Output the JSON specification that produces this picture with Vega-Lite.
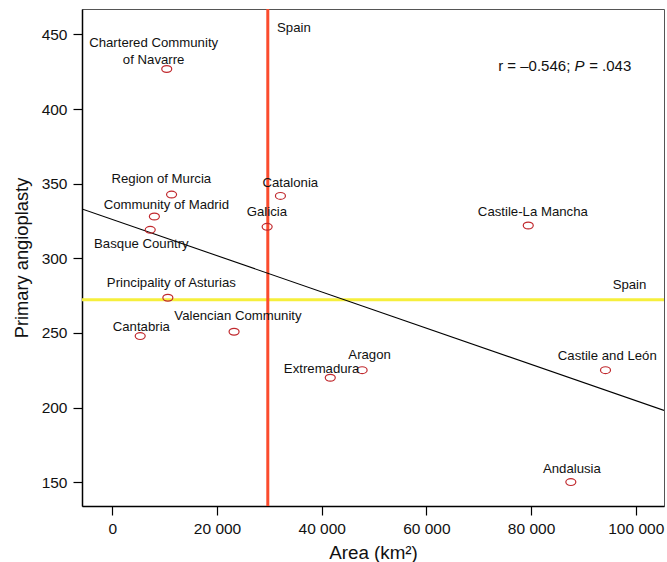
{
  "$schema": "https://vega.github.io/schema/vega-lite/v6.json",
  "width": 582,
  "height": 497,
  "autosize": {"type": "none"},
  "padding": {"left": 82, "top": 9, "right": 3, "bottom": 56},
  "config": {
    "font": "Liberation Sans",
    "view": {"stroke": "#555555", "strokeWidth": 1},
    "axis": {"grid": false, "domainColor": "#000000", "domainWidth": 1.5, "tickColor": "#000000", "tickWidth": 1.2, "tickSize": 9, "labelFontSize": 15.5, "labelColor": "#111111", "titleFontSize": 18.3, "titleFontWeight": "normal", "titleColor": "#111111", "labelPadding": 6}
  },
  "datasets": {
    "points": [
      {"region": "Chartered Community of Navarre", "area": 10391, "pa": 426.8},
      {"region": "Region of Murcia", "area": 11313, "pa": 342.7},
      {"region": "Community of Madrid", "area": 8028, "pa": 328},
      {"region": "Basque Country", "area": 7234, "pa": 319.1},
      {"region": "Galicia", "area": 29574, "pa": 321.1},
      {"region": "Catalonia", "area": 32113, "pa": 341.8},
      {"region": "Principality of Asturias", "area": 10604, "pa": 273.6},
      {"region": "Cantabria", "area": 5321, "pa": 247.9},
      {"region": "Valencian Community", "area": 23255, "pa": 250.8},
      {"region": "Extremadura", "area": 41634, "pa": 220},
      {"region": "Aragon", "area": 47720, "pa": 225.1},
      {"region": "Castile-La Mancha", "area": 79463, "pa": 322},
      {"region": "Castile and León", "area": 94223, "pa": 225.1},
      {"region": "Andalusia", "area": 87599, "pa": 150.1}
    ],
    "labels": [
      {"label": ["Chartered Community", "of Navarre"], "lx": 7890, "ly": 444.2},
      {"label": "Region of Murcia", "lx": 9360, "ly": 353.2},
      {"label": "Community of Madrid", "lx": 10315, "ly": 336},
      {"label": "Basque Country", "lx": 5540, "ly": 309.7},
      {"label": "Principality of Asturias", "lx": 11270, "ly": 283.6},
      {"label": "Catalonia", "lx": 34000, "ly": 350.5},
      {"label": "Galicia", "lx": 29530, "ly": 331.3},
      {"label": "Spain", "lx": 34690, "ly": 454.3},
      {"label": "Castile-La Mancha", "lx": 80340, "ly": 331.1},
      {"label": "Spain", "lx": 98810, "ly": 282},
      {"label": "Cantabria", "lx": 5540, "ly": 253.9},
      {"label": "Valencian Community", "lx": 24000, "ly": 261.7},
      {"label": "Extremadura", "lx": 39980, "ly": 225.6},
      {"label": "Aragon", "lx": 49150, "ly": 235.1},
      {"label": "Castile and León", "lx": 94560, "ly": 234.5},
      {"label": "Andalusia", "lx": 87800, "ly": 158.6}
    ],
    "fit": [
      {"area": -5800, "pa": 333.1},
      {"area": 105400, "pa": 198.1}
    ],
    "spainArea": [{"area": 29700}],
    "spainPA": [{"pa": 272.2}],
    "stat1": [{"t": "r = \u20130.546;", "lx": 87500, "ly": 428.6}],
    "stat2": [{"t": "P", "lx": 89250, "ly": 428.6}],
    "stat3": [{"t": "= .043", "lx": 91100, "ly": 428.6}]
  },
  "layer": [
    {
      "data": {"name": "spainPA"},
      "mark": {"type": "rule", "color": "#f6ef3c", "strokeWidth": 3},
      "encoding": {
        "y": {"field": "pa", "type": "quantitative", "scale": {"domain": [134.1, 467], "nice": false, "zero": false}, "axis": {"values": [150, 200, 250, 300, 350, 400, 450], "title": "Primary angioplasty", "titlePadding": 10}}
      }
    },
    {
      "data": {"name": "spainArea"},
      "mark": {"type": "rule", "color": "#fb4b2d", "strokeWidth": 3},
      "encoding": {
        "x": {"field": "area", "type": "quantitative", "scale": {"domain": [-5800, 105400], "nice": false, "zero": false}, "axis": {"values": [0, 20000, 40000, 60000, 80000, 100000], "labelExpr": "datum.value == 0 ? '0' : format(floor(datum.value/1000), 'd') + ' 000'", "title": "Area (km\u00b2)", "titleFontSize": 18.8, "titlePadding": 7}}
      }
    },
    {
      "data": {"name": "fit"},
      "mark": {"type": "line", "color": "#000000", "strokeWidth": 1.1, "clip": true},
      "encoding": {
        "x": {"field": "area", "type": "quantitative"},
        "y": {"field": "pa", "type": "quantitative"}
      }
    },
    {
      "data": {"name": "points"},
      "mark": {"type": "point", "shape": "M-1,0A1,0.68 0 1,1 1,0A1,0.68 0 1,1 -1,0Z", "filled": false, "stroke": "#c0282d", "strokeWidth": 1.2, "size": 100, "opacity": 1},
      "encoding": {
        "x": {"field": "area", "type": "quantitative"},
        "y": {"field": "pa", "type": "quantitative"}
      }
    },
    {
      "data": {"name": "labels"},
      "mark": {"type": "text", "fontSize": 13.2, "color": "#111111", "align": "center", "baseline": "middle", "lineHeight": 16.5},
      "encoding": {
        "x": {"field": "lx", "type": "quantitative"},
        "y": {"field": "ly", "type": "quantitative"},
        "text": {"field": "label"}
      }
    },
    {
      "data": {"name": "stat1"},
      "mark": {"type": "text", "fontSize": 15, "color": "#111111", "align": "right", "baseline": "middle"},
      "encoding": {
        "x": {"field": "lx", "type": "quantitative"},
        "y": {"field": "ly", "type": "quantitative"},
        "text": {"field": "t"}
      }
    },
    {
      "data": {"name": "stat2"},
      "mark": {"type": "text", "fontSize": 15, "fontStyle": "italic", "color": "#111111", "align": "center", "baseline": "middle"},
      "encoding": {
        "x": {"field": "lx", "type": "quantitative"},
        "y": {"field": "ly", "type": "quantitative"},
        "text": {"field": "t"}
      }
    },
    {
      "data": {"name": "stat3"},
      "mark": {"type": "text", "fontSize": 15, "color": "#111111", "align": "left", "baseline": "middle"},
      "encoding": {
        "x": {"field": "lx", "type": "quantitative"},
        "y": {"field": "ly", "type": "quantitative"},
        "text": {"field": "t"}
      }
    }
  ]
}
